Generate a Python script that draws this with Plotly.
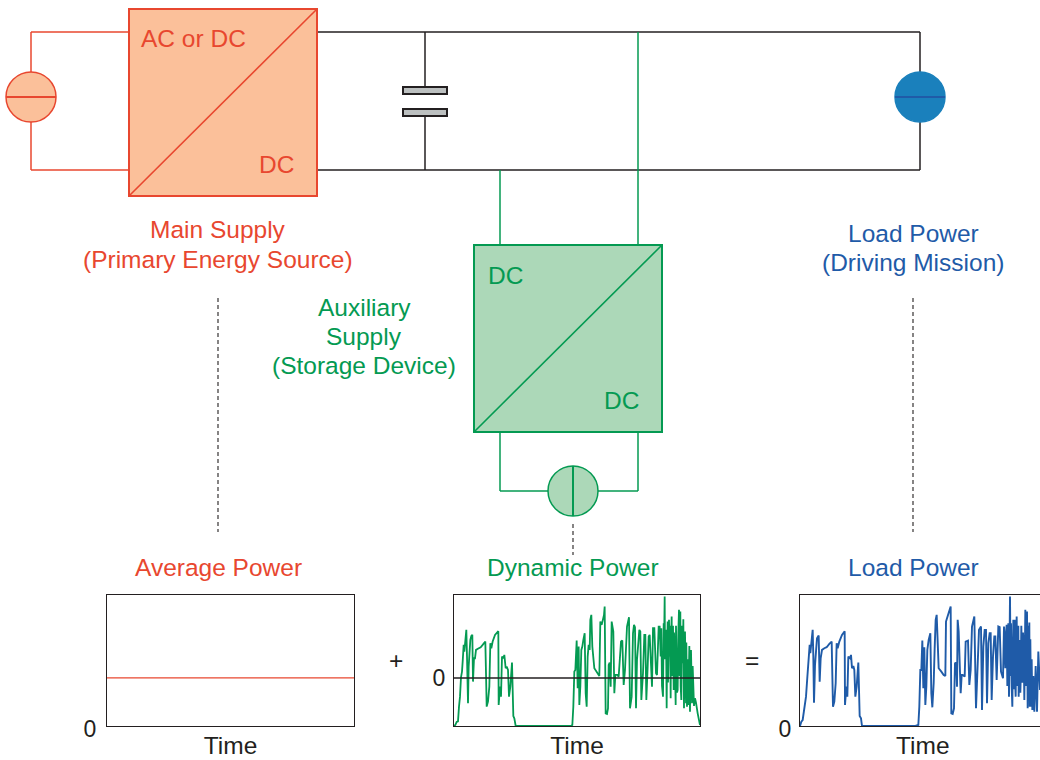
import plotly.graph_objects as go

# Time axis in arbitrary units, power in arbitrary units (0 = bottom of the panel)
average_time = [0, 738]
average_power = [144, 144]
zero_level = 144

dynamic_time = [0,4,8,12,15,18,21,24,26,29,31,34,37,39,42,44,46,49,52,55,57,60,63,66,73,80,86,91,94,96,98,102,106,109,112,116,123,133,134,138,141,144,148,151,155,158,162,165,169,174,176,178,181,185,351,
    355,358,361,364,366,368,371,374,376,379,382,385,388,392,395,398,401,404,407,409,412,415,421,428,434,436,439,443,450,452,455,459,462,464,467,470,473,478,481,484,490,494,501,505,509,513,519,525,528,533,
    537,540,543,546,549,552,556,559,562,567,571,574,577,581,584,587,591,594,597,601,606,609,614,617,
    620,622,624,627,629,630,632,633,636,638,639,641,642,645,647,648,650,651,653,654,656,657,659,660,662,663,665,666,668,669,671,673,675,677,679,680,682,684,686,688,690,691,693,694,696,697,699,701,703,706,708,709,711,712,714,716,718,720,723,726,731,738]
dynamic_power = [0,3,12,14,58,88,146,163,193,243,223,258,288,208,68,178,228,258,270,273,133,203,203,228,232,236,243,250,253,158,58,73,118,248,233,253,273,284,63,118,88,208,203,213,173,178,168,88,118,190,88,30,23,0,0,
    3,58,163,168,248,256,113,238,63,118,228,238,258,278,98,58,208,243,228,318,333,238,173,163,153,150,313,303,333,358,38,36,53,183,190,118,313,283,98,153,153,148,253,256,123,168,298,326,53,88,278,
    303,296,53,198,238,288,283,78,158,273,273,78,178,268,273,168,118,293,293,158,153,298,298,208,
    293,120,88,308,230,388,200,288,53,200,313,130,318,208,300,83,260,328,150,238,300,108,280,233,120,63,300,223,100,108,280,348,150,343,120,78,300,188,320,53,180,283,100,68,250,58,200,63,240,43,150,228,100,68,180,83,60,83,70,38,3,0]

load_time = [0,4,8,14,18,22,26,29,31,34,38,40,42,45,48,51,56,59,62,66,73,80,88,95,97,99,103,107,110,113,118,126,134,135,139,142,145,150,153,156,160,163,166,170,175,178,179,183,186,346,
    355,358,361,364,367,370,373,376,379,382,386,391,394,397,401,404,407,410,413,416,424,431,436,438,441,446,452,454,458,462,465,469,471,473,476,482,485,488,494,497,504,508,512,516,523,
    528,533,537,543,546,550,554,558,561,565,569,572,575,579,583,586,590,595,599,603,609,
    612,614,616,618,620,622,625,627,629,630,632,633,635,637,639,640,642,644,645,647,649,650,652,653,655,656,658,659,661,662,664,665,667,669,671,673,675,676,678,681,683,685,686,688,689,691,693,695,697,700,703,707,711,715,720]
load_power = [0,13,18,58,88,146,193,243,218,258,288,208,70,183,228,263,271,133,203,228,233,236,246,253,153,58,73,128,248,233,253,273,284,63,118,88,208,203,213,173,180,168,88,118,190,88,30,23,0,0,
    3,58,168,168,256,113,236,63,118,228,258,278,98,56,128,233,318,333,238,173,163,153,150,313,323,338,358,38,36,53,188,190,118,318,283,98,153,153,148,253,256,123,168,298,328,
    53,208,288,298,48,238,288,288,68,248,278,278,78,208,268,268,138,298,296,163,143,
    298,200,173,280,303,120,308,88,300,388,150,308,120,58,250,318,110,318,140,88,270,328,120,228,300,88,240,258,100,138,300,228,130,280,233,78,300,348,120,343,53,300,188,310,58,260,58,200,48,150,43,180,43,223,108]

RED, ORANGE = "#E8472F", "#FBC09A"
GREEN, GREEN_FILL = "#049A52", "#ACD8B8"
BLUE, BLUE_FILL = "#1F5BA8", "#1A80BC"
BLACK, GREY = "#231F20", "#BCC0C0"
FONT = "Liberation Sans"
W, H = 1040, 760


def px(x):
    return x / W


def py(y):
    return 1 - y / H


fig = go.Figure()
fig.add_trace(go.Scatter(x=average_time, y=average_power, mode="lines",
                         line=dict(color=RED, width=1.3), xaxis="x", yaxis="y"))
fig.add_trace(go.Scatter(x=dynamic_time, y=dynamic_power, mode="lines",
                         line=dict(color=GREEN, width=1.8), xaxis="x2", yaxis="y2"))
fig.add_trace(go.Scatter(x=average_time, y=[zero_level, zero_level], mode="lines",
                         line=dict(color=BLACK, width=1.4), xaxis="x2", yaxis="y2"))
fig.add_trace(go.Scatter(x=load_time, y=load_power, mode="lines",
                         line=dict(color=BLUE, width=1.9), xaxis="x3", yaxis="y3"))


def line(x0, y0, x1, y1, color, width=1.5, dash=None):
    return dict(type="line", xref="paper", yref="paper", x0=px(x0), y0=py(y0), x1=px(x1), y1=py(y1),
                line=dict(color=color, width=width, dash=dash))


def rect(x0, y0, x1, y1, color, fill, width=2):
    return dict(type="rect", xref="paper", yref="paper", x0=px(x0), y0=py(y0), x1=px(x1), y1=py(y1),
                line=dict(color=color, width=width), fillcolor=fill)


def circle(cx, cy, r, color, fill):
    return dict(type="circle", xref="paper", yref="paper", x0=px(cx - r), y0=py(cy - r), x1=px(cx + r), y1=py(cy + r),
                line=dict(color=color, width=1.5), fillcolor=fill)


shapes = [
    # black bus wires
    line(317, 32, 920, 32, BLACK), line(317, 170, 920, 170, BLACK),
    line(920, 32, 920, 72, BLACK), line(920, 122, 920, 170, BLACK),
    line(425, 32, 425, 87, BLACK), line(425, 116, 425, 170, BLACK),
    rect(403, 87, 447, 94, BLACK, GREY), rect(403, 109, 447, 116, BLACK, GREY),
    # source side
    line(129, 32, 31, 32, RED), line(31, 32, 31, 72, RED),
    line(31, 122, 31, 170, RED), line(31, 170, 129, 170, RED),
    circle(31, 97, 25, RED, ORANGE), line(6, 97, 56, 97, RED, 2),
    rect(129, 9, 317, 196, RED, ORANGE), line(129, 196, 317, 9, RED, 1.6),
    # load
    circle(920, 97, 25, BLUE_FILL, BLUE_FILL), line(895, 97, 945, 97, BLUE, 2),
    # storage side
    line(500, 170, 500, 245, GREEN), line(638, 32, 638, 245, GREEN),
    rect(474, 245, 662, 432, GREEN, GREEN_FILL), line(474, 432, 662, 245, GREEN, 1.6),
    line(500, 432, 500, 491, GREEN), line(500, 491, 549, 491, GREEN),
    line(598, 491, 638, 491, GREEN), line(638, 491, 638, 432, GREEN),
    circle(573, 491, 25, GREEN, GREEN_FILL), line(573, 466, 573, 516, GREEN, 2),
    # dashed leaders
    line(218, 298, 218, 532, BLACK, 1.1, "4px,3px"),
    line(573, 524, 573, 555, BLACK, 1.1, "4px,3px"),
    line(913, 298, 913, 532, BLACK, 1.1, "4px,3px"),
]

labels = [
    ("AC or DC", 193, 39, RED), ("DC", 276, 164, RED),
    ("Main Supply", 218, 230, RED), ("(Primary Energy Source)", 218, 259, RED),
    ("Load Power", 913, 233, BLUE), ("(Driving Mission)", 913, 262, BLUE),
    ("DC", 505, 275, GREEN), ("DC", 621, 400, GREEN),
    ("Auxiliary", 364, 307, GREEN), ("Supply", 364, 336, GREEN), ("(Storage Device)", 364, 365, GREEN),
    ("Average Power", 218, 567, RED), ("Dynamic Power", 573, 567, GREEN), ("Load Power", 913, 567, BLUE),
    ("+", 396, 660, BLACK), ("=", 752, 660, BLACK), ("Time", 923, 745, BLACK),
]
annotations = [dict(text=t, x=px(x), y=py(y), xref="paper", yref="paper", showarrow=False,
                    xanchor="center", yanchor="middle", font=dict(family=FONT, size=24.5, color=c))
               for t, x, y, c in labels]

ytop, ybot = py(594.5), py(726)


def xax(anchor, x0, x1, rng, title=True):
    ax = dict(domain=[px(x0), px(x1)], range=rng, anchor=anchor, showgrid=False, zeroline=False,
              showline=True, mirror=True, linecolor=BLACK, linewidth=1.4, showticklabels=False, ticks="",
              automargin=False)
    if title:
        ax["title"] = dict(text="Time", standoff=10, font=dict(family=FONT, size=24.5, color=BLACK))
    return ax


def yax(anchor, tick_val, standoff, shift=0, mirror=True):
    return dict(domain=[ybot, ytop], range=[0, 394], anchor=anchor, showgrid=False, zeroline=False,
                showline=True, mirror=mirror, linecolor=BLACK, linewidth=1.4, automargin=False,
                tickmode="array", tickvals=[tick_val], ticktext=["0"], ticks="", ticklabelstandoff=standoff,
                ticklabelshift=shift, tickfont=dict(family=FONT, size=23, color=BLACK))


fig.update_layout(
    width=W, height=H, margin=dict(l=0, r=0, t=0, b=0), showlegend=False,
    paper_bgcolor="white", plot_bgcolor="white", hovermode=False,
    shapes=shapes, annotations=annotations,
    xaxis=xax("y", 107, 354, [0, 738]), yaxis=yax("x", 0, 5, shift=3),
    xaxis2=xax("y2", 454, 700, [0, 738]), yaxis2=yax("x2", zero_level, 3),
    xaxis3=xax("y3", 800, 1040, [0, 720], title=False), yaxis3=yax("x3", 0, 3, shift=3, mirror=False),
)
fig.write_html("out.html", config=dict(displayModeBar=False), post_script="document.body.style.margin='0';")
